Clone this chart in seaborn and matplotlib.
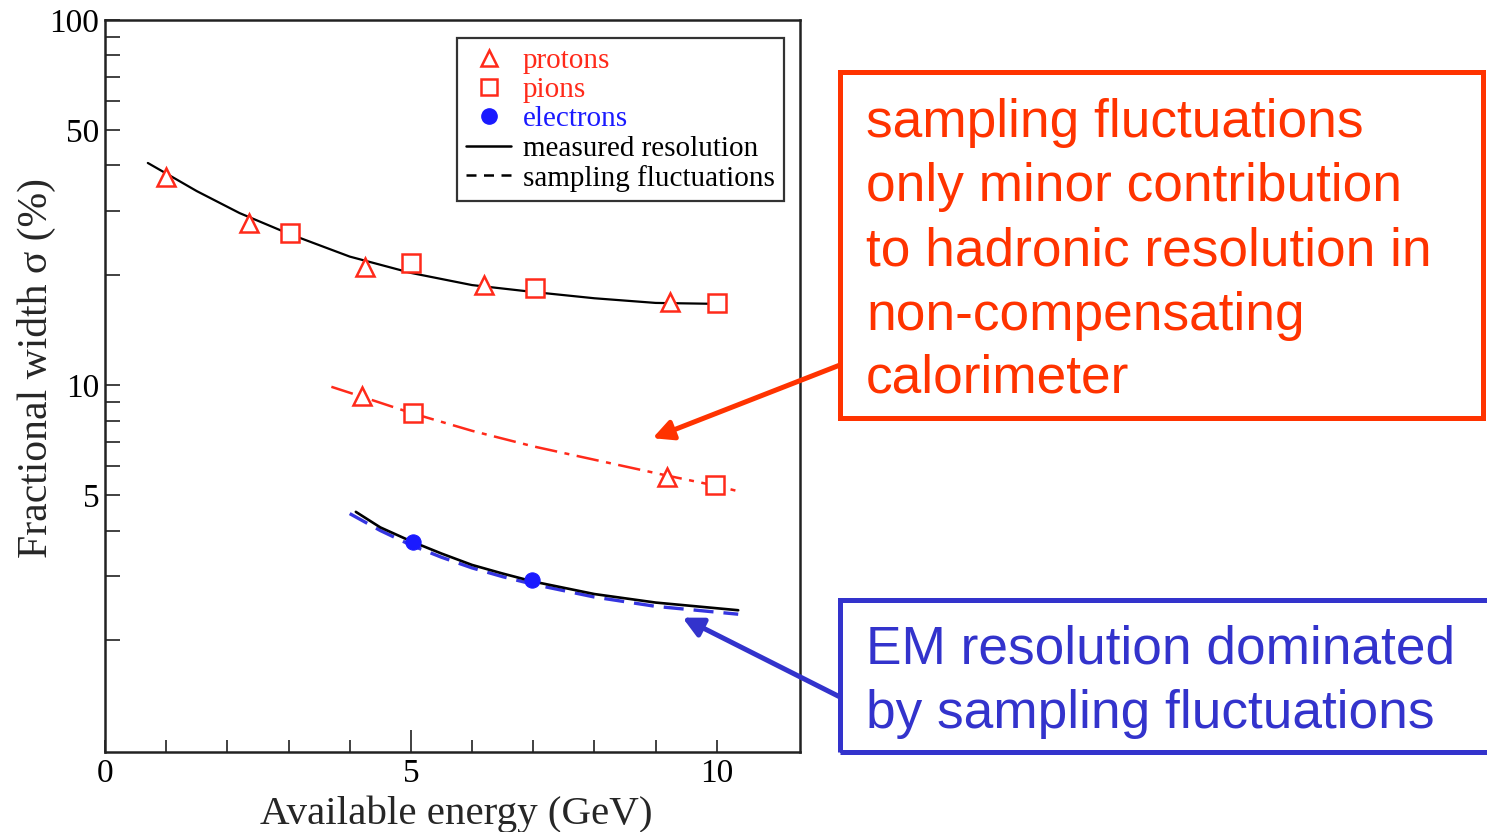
import matplotlib
matplotlib.use("Agg")
import matplotlib.pyplot as plt
from matplotlib.lines import Line2D
from matplotlib.patches import Rectangle
import seaborn as sns

# ---------------- data ----------------
proton_E = [1.0, 2.35, 4.25, 6.2, 9.23]
proton_meas = [37.1, 27.8, 21.1, 18.8, 16.9]
pion_E = [3.02, 5.0, 7.03, 10.0]
pion_meas = [26.1, 21.6, 18.4, 16.8]

had_curve_E = [0.7, 1.0, 1.5, 2.2, 3.0, 4.0, 5.0, 6.0, 7.0, 8.0, 9.0, 10.0]
had_curve_meas = [40.6, 38.0, 34.0, 29.6, 26.0, 22.5, 20.3, 18.8, 18.0, 17.3, 16.8, 16.7]

had_samp_curve_E = [3.7, 4.2, 5.0, 6.0, 7.0, 8.0, 9.2, 10.0, 10.4]
had_samp_curve = [9.9, 9.3, 8.4, 7.5, 6.8, 6.25, 5.65, 5.3, 5.1]
proton_samp_E = [4.2, 9.18]
proton_samp = [9.33, 5.6]
pion_samp_E = [5.03, 9.97]
pion_samp = [8.38, 5.32]

em_curve_E = [4.1, 4.5, 5.0, 5.5, 6.0, 6.5, 7.0, 8.0, 9.0, 10.35]
em_curve_meas = [4.5, 4.08, 3.74, 3.46, 3.22, 3.05, 2.9, 2.68, 2.54, 2.42]
em_samp_E = [4.0, 4.5, 5.0, 5.5, 6.0, 6.5, 7.0, 8.0, 9.0, 10.35]
em_samp = [4.45, 4.0, 3.65, 3.38, 3.16, 2.99, 2.85, 2.63, 2.48, 2.36]
electron_E = [5.03, 6.98]
electron_meas = [3.72, 2.92]

legend_labels = ["protons", "pions", "electrons", "measured resolution", "sampling fluctuations"]
red_note = ["sampling fluctuations", "only minor contribution", "to hadronic resolution in",
            "non-compensating", "calorimeter"]
blue_note = ["EM resolution dominated", "by sampling fluctuations"]

# ---------------- style ----------------
sns.set_style("ticks")
plt.rcParams["font.family"] = ["Liberation Serif", "DejaVu Serif"]

RED = "#ff2a1a"
BLUE = "#1a1aff"
BLUE_LINE = "#3535e0"
NOTE_RED = "#ff3300"
NOTE_BLUE = "#3333cc"

W, H = 1487, 832
fig = plt.figure(figsize=(W / 100, H / 100), dpi=100)
ax = fig.add_axes([105 / W, 1 - 752 / H, (800 - 105) / W, (752 - 20) / H])

# curves
sns.lineplot(x=had_curve_E, y=had_curve_meas, ax=ax, color="black", lw=1.6, zorder=2)
sns.lineplot(x=had_samp_curve_E, y=had_samp_curve, ax=ax, color=RED, lw=1.8,
             linestyle=(0, (9, 3, 2, 3)), zorder=2)
sns.lineplot(x=em_samp_E, y=em_samp, ax=ax, color=BLUE_LINE, lw=2.4,
             linestyle=(0, (6, 3)), zorder=2)
sns.lineplot(x=em_curve_E, y=em_curve_meas, ax=ax, color="black", lw=1.9, zorder=3)

# markers
mk = dict(linestyle="none", markerfacecolor="white", markeredgecolor=RED,
          markeredgewidth=1.8, markersize=13, zorder=4)
sns.lineplot(x=proton_E, y=proton_meas, ax=ax, marker="^", **mk)
sns.lineplot(x=pion_E, y=pion_meas, ax=ax, marker="s", **mk)
sns.lineplot(x=proton_samp_E, y=proton_samp, ax=ax, marker="^", **mk)
sns.lineplot(x=pion_samp_E, y=pion_samp, ax=ax, marker="s", **mk)
sns.lineplot(x=electron_E, y=electron_meas, ax=ax, marker="o", linestyle="none",
             markerfacecolor=BLUE, markeredgecolor=BLUE, markersize=11, zorder=5)

# axes
ax.set_yscale("log")
ax.set_ylim(0.99, 100)
ax.set_xlim(0, 11.36)
ax.set_yticks([5, 10, 50, 100])
ax.set_yticklabels(["5", "10", "50", "100"])
ax.set_yticks([2, 3, 4, 6, 7, 8, 9, 20, 30, 40, 60, 70, 80, 90], minor=True)
ax.yaxis.set_minor_formatter(matplotlib.ticker.NullFormatter())
ax.set_xticks([0, 5, 10])
ax.set_xticklabels(["0", "5", "10"])
ax.set_xticks([1, 2, 3, 4, 6, 7, 8, 9], minor=True)
ax.tick_params(axis="both", which="both", direction="in", width=1.3, colors="#333333",
               labelcolor="black", labelsize=24)
ax.tick_params(axis="y", which="both", length=11, pad=4)
ax.tick_params(axis="x", which="major", length=9, pad=5)
ax.tick_params(axis="x", which="minor", length=9)
ax.xaxis.get_major_ticks()[1].tick1line.set_markersize(16)
for s in ax.spines.values():
    s.set_linewidth(1.8)
    s.set_color("#222222")
ax.set_xlabel("Available energy (GeV)", fontsize=29.5, va="top")
ax.xaxis.set_label_coords(0.506, -0.059)
ax.set_ylabel("Fractional width σ (%)", fontsize=30)
ax.yaxis.set_label_coords(-0.071, 0.525)

# legend
handles = [
    Line2D([], [], linestyle="none", marker="^", markerfacecolor="white", markeredgecolor=RED,
           markeredgewidth=1.8, markersize=12),
    Line2D([], [], linestyle="none", marker="s", markerfacecolor="white", markeredgecolor=RED,
           markeredgewidth=1.8, markersize=11),
    Line2D([], [], linestyle="none", marker="o", markerfacecolor=BLUE, markeredgecolor=BLUE,
           markersize=11),
    Line2D([], [], color="black", lw=1.8),
    Line2D([], [], color="black", lw=1.8, linestyle=(0, (4, 3))),
]
leg = ax.legend(handles, legend_labels, loc="upper right",
                bbox_to_anchor=((784 - 105) / 695, 1 - (38 - 20) / 732),
                borderaxespad=0, fontsize=21, labelspacing=0.1, handlelength=1.55,
                handletextpad=0.4, borderpad=0.32, frameon=True, fancybox=False,
                labelcolor=[RED, RED, BLUE, "black", "black"])
leg.get_frame().set_edgecolor("black")
leg.get_frame().set_linewidth(1.6)

# note boxes
def fx(px):
    return px / W


def fy(py):
    return 1 - py / H


fig.add_artist(Rectangle((fx(840), fy(418)), fx(1483) - fx(840), fy(72) - fy(418),
                         transform=fig.transFigure, fill=False, edgecolor=NOTE_RED, lw=3.6))
fig.add_artist(Rectangle((fx(840), fy(752)), 0.46, fy(600) - fy(752),
                         transform=fig.transFigure, fill=False, edgecolor=NOTE_BLUE, lw=3.6,
                         clip_on=False))

red_base = [137, 201, 265, 330, 393]
for line, b in zip(red_note, red_base):
    fig.text(fx(866), fy(b), line, color=NOTE_RED, fontsize=38.3, va="baseline", ha="left",
             family=["Liberation Sans", "DejaVu Sans"])
blue_base = [664, 728]
for line, b in zip(blue_note, blue_base):
    fig.text(fx(866), fy(b), line, color=NOTE_BLUE, fontsize=38.3, va="baseline", ha="left",
             family=["Liberation Sans", "DejaVu Sans"])

# arrows
ax.annotate("", xy=(8.95, 7.16), xycoords="data", xytext=(fx(840), fy(365)),
            textcoords="figure fraction",
            arrowprops=dict(arrowstyle="-|>", color=NOTE_RED, lw=3.6, mutation_scale=30,
                            shrinkA=0, shrinkB=0), annotation_clip=False)
ax.annotate("", xy=(9.44, 2.31), xycoords="data", xytext=(fx(840), fy(697)),
            textcoords="figure fraction",
            arrowprops=dict(arrowstyle="-|>", color=NOTE_BLUE, lw=3.6, mutation_scale=30,
                            shrinkA=0, shrinkB=0), annotation_clip=False)

fig.savefig("out.png", dpi=100)
